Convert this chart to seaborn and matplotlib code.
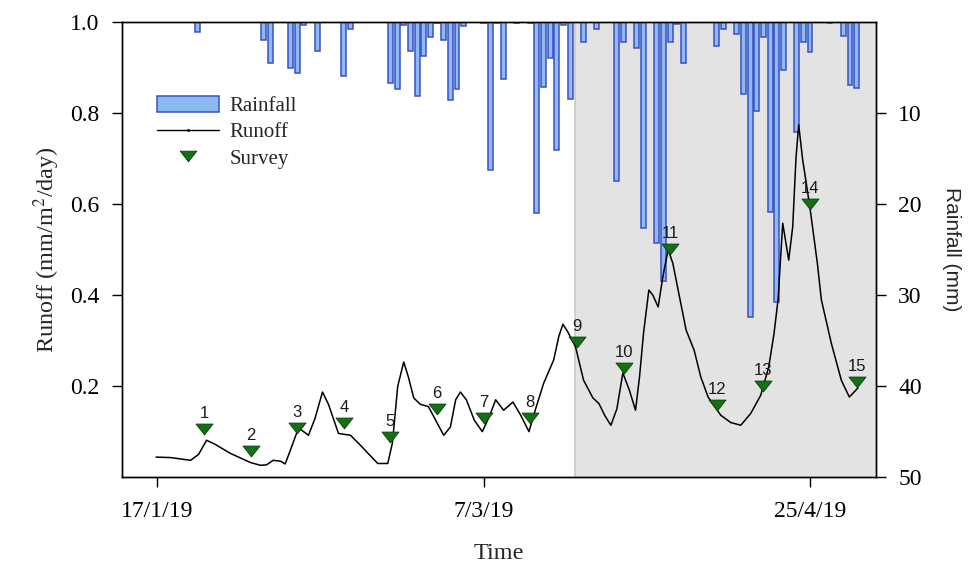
import matplotlib
matplotlib.use("Agg")
import matplotlib.pyplot as plt
import matplotlib.markers as mmarkers
from matplotlib.path import Path
from matplotlib.lines import Line2D
from matplotlib.patches import Patch
import numpy as np
import pandas as pd
import seaborn as sns

# ---- data (day offsets from 17 Jan 2019) ----
start = pd.Timestamp("2019-01-17")

rain_day = [6, 16, 17, 20, 21, 22, 24, 28, 29, 35, 36, 37, 38, 39, 40, 41, 42, 43,
            44, 45, 46, 49, 50, 51, 52, 54, 56, 57, 58, 59, 60, 61, 62, 64, 66, 69,
            70, 72, 73, 75, 76, 77, 78, 79, 84, 85, 87, 88, 89, 90, 91, 92, 93, 94,
            96, 97, 98, 101, 103, 104, 105]
rain_mm = [1.1, 2.0, 4.5, 5.0, 5.6, 0.3, 3.2, 5.9, 0.8, 6.7, 7.4, 0.3, 3.2, 8.1, 3.7,
           1.6, 0.15, 2.0, 8.6, 7.4, 0.4, 0.15, 16.2, 0.15, 6.2, 0.15, 0.15, 21.0,
           7.1, 4.0, 14.1, 0.3, 8.4, 2.2, 0.8, 17.5, 2.2, 2.8, 22.6, 24.3, 28.4, 2.2,
           0.2, 4.5, 2.6, 0.8, 1.3, 7.9, 32.4, 9.8, 1.6, 20.9, 30.8, 5.3, 12.1, 2.2,
           3.3, 0.1, 1.5, 6.9, 7.2]

runoff_day = [-0.2, 2.0, 5.0, 6.2, 7.4, 8.7, 11.0, 14.0, 15.5, 16.4, 17.4, 18.5, 19.2,
              20.0, 21.0, 21.5, 22.7, 23.7, 24.8, 25.7, 27.2, 29.0, 30.5, 31.6, 33.1,
              34.6, 35.3, 36.1, 37.0, 37.7, 38.5, 39.5, 40.7, 41.8, 43.0, 44.0, 44.8,
              45.5, 46.4, 47.6, 48.8, 49.9, 50.8, 52.0, 53.4, 54.6, 55.8, 56.8, 58.0,
              59.5, 60.3, 60.9, 61.6, 62.8, 64.0, 65.4, 66.3, 67.2, 68.1, 69.0, 69.9,
              70.9, 71.8, 72.4, 73.0, 73.8, 74.4, 75.2, 75.9, 76.7, 77.4, 78.2, 79.4,
              80.6, 81.6, 82.7, 84.6, 86.1, 87.6, 89.1, 90.6, 91.8, 92.6, 93.2, 93.9,
              94.8, 95.4, 95.9, 96.3, 96.9, 97.5, 98.1, 99.1, 99.7, 101.2, 102.7,
              103.9, 105.2]
runoff_val = [0.044, 0.043, 0.037, 0.05, 0.081, 0.072, 0.052, 0.032, 0.026, 0.027,
              0.037, 0.035, 0.029, 0.06, 0.1, 0.105, 0.092, 0.13, 0.187, 0.16, 0.096,
              0.092, 0.07, 0.053, 0.03, 0.03, 0.075, 0.2, 0.253, 0.22, 0.174, 0.16,
              0.155, 0.125, 0.092, 0.11, 0.17, 0.187, 0.17, 0.125, 0.1, 0.135, 0.17,
              0.147, 0.165, 0.135, 0.1, 0.15, 0.206, 0.257, 0.31, 0.336, 0.32, 0.286,
              0.213, 0.174, 0.162, 0.135, 0.114, 0.15, 0.229, 0.19, 0.147, 0.22,
              0.316, 0.411, 0.40, 0.374, 0.44, 0.5, 0.47, 0.411, 0.323, 0.279, 0.22,
              0.176, 0.136, 0.12, 0.114, 0.14, 0.18, 0.242, 0.316, 0.39, 0.558, 0.477,
              0.55, 0.703, 0.774, 0.697, 0.64, 0.58, 0.47, 0.39, 0.294, 0.213, 0.176,
              0.196]

survey_day = [7, 14, 21, 28, 35, 42, 49, 56, 63, 70, 77, 84, 91, 98, 105]
survey_val = [0.105, 0.057, 0.108, 0.119, 0.088, 0.149, 0.130, 0.130, 0.297, 0.24,
              0.501, 0.158, 0.20, 0.60, 0.209]
survey_id = [str(i) for i in range(1, 16)]

tick_dates = ["2019-01-17", "2019-03-07", "2019-04-25"]
tick_labels = ["17/1/19", "7/3/19", "25/4/19"]
runoff_ticks = [0.2, 0.4, 0.6, 0.8, 1.0]
rain_ticks = [10, 20, 30, 40, 50]

x_min = start + pd.Timedelta(days=-5.3)
x_max = start + pd.Timedelta(days=107.9)
shade_start = start + pd.Timedelta(days=62.7)


def to_dates(days):
    return start + pd.to_timedelta(days, unit="D")


rain = pd.DataFrame({"date": to_dates(rain_day), "mm": rain_mm})
runoff = pd.DataFrame({"date": to_dates(runoff_day), "runoff": runoff_val})
survey = pd.DataFrame({"date": to_dates(survey_day), "runoff": survey_val,
                       "id": survey_id})

# ---- style ----
sns.set_style("ticks")
plt.rcParams["font.family"] = ["Liberation Serif", "DejaVu Serif"]
plt.rcParams["mathtext.fontset"] = "stix"

TICK = 17
LABEL = 17.5
SANS = ["Liberation Sans", "DejaVu Sans"]
green = "#137013"
bar_face = "#8cbaf3"
bar_edge = "#3c4fc2"

tri = mmarkers.MarkerStyle(Path([(-1, 0.64), (1, 0.64), (0, -0.64), (-1, 0.64)],
                                 [Path.MOVETO, Path.LINETO, Path.LINETO,
                                  Path.CLOSEPOLY]))

fig = plt.figure(figsize=(9.76, 5.66), dpi=100)
ax = fig.add_axes([0.125, 0.157, 0.7725, 0.804])
ax2 = ax.twinx()

# rainfall hangs from the top on the inverted right axis
ax2.axvspan(shade_start, x_max, facecolor="#e3e3e3", edgecolor="none", zorder=0)
ax2.axvline(shade_start, color="#c9c9c9", lw=1.2, zorder=0.5)
ax2.bar(rain["date"], rain["mm"], width=0.74, color=bar_face,
        edgecolor=bar_edge, linewidth=1.1, zorder=2)
ax2.set_ylim(50, 0)
ax2.set_yticks(rain_ticks)
ax2.set_yticklabels([str(t) for t in rain_ticks])
ax2.set_ylabel("Rainfall (mm)", rotation=270, labelpad=28, fontsize=15,
               family=SANS)

# runoff and survey points on the left axis, drawn above the bars
ax.set_zorder(ax2.get_zorder() + 1)
ax.patch.set_visible(False)
sns.lineplot(data=runoff, x="date", y="runoff", ax=ax, color="black", lw=1.1)
sns.scatterplot(data=survey, x="date", y="runoff", ax=ax, marker=tri, s=150,
                color=green, edgecolor="#0b3d0b", linewidth=0.6, zorder=5)
for _, row in survey.iterrows():
    ax.annotate(row["id"], (row["date"], row["runoff"]), xytext=(0, 6),
                textcoords="offset points", ha="center", va="bottom",
                fontsize=12, family=SANS, color="#1a1a1a", zorder=6)

ax.set_ylim(0, 1.0)
ax.set_yticks(runoff_ticks)
ax.set_yticklabels([f"{t:.1f}" for t in runoff_ticks])
ax.set_xlim(x_min, x_max)
ax.set_xticks(pd.to_datetime(tick_dates))
ax.set_xticklabels(tick_labels)
ax.set_xlabel("Time", fontsize=LABEL, labelpad=15)
ax.set_ylabel("Runoff (mm/m$^2$/day)", fontsize=LABEL, labelpad=6)

for a in (ax, ax2):
    a.tick_params(direction="out", length=7, width=1.0, labelsize=TICK,
                  colors="black", pad=9)
    for s in a.spines.values():
        s.set_linewidth(1.0)
        s.set_color("black")
ax.tick_params(axis="x", pad=10)

handles = [
    Patch(facecolor=bar_face, edgecolor=bar_edge, linewidth=1.1),
    Line2D([], [], color="black", lw=1.0, marker=".", markersize=2),
    Line2D([], [], color=green, marker=tri, markersize=12, ls="none",
           markeredgecolor="#0b3d0b", markeredgewidth=0.6),
]
ax.legend(handles, ["Rainfall", "Runoff", "Survey"], loc="upper left",
          bbox_to_anchor=(0.035, 0.855), frameon=False, fontsize=15,
          handlelength=3.0, handleheight=0.75, labelspacing=0.3,
          handletextpad=0.5, borderaxespad=0)

fig.savefig("out.png", dpi=100)
